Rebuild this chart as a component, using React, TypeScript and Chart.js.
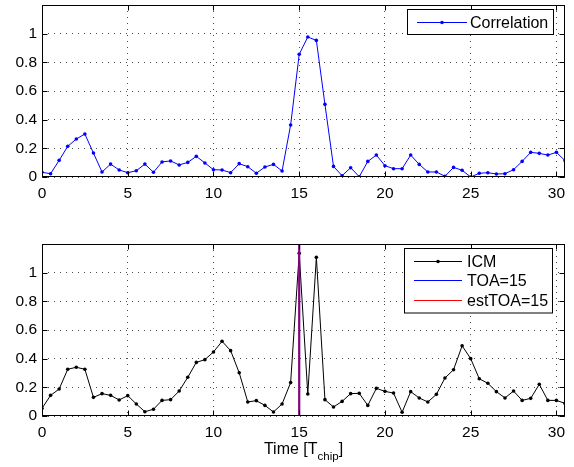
import React, { useEffect, useRef } from "react";
import { Chart, registerables } from "chart.js";

Chart.register(...registerables);

const times = [
  0, 0.5, 1, 1.5, 2, 2.5, 3, 3.5, 4, 4.5, 5, 5.5, 6, 6.5, 7, 7.5, 8, 8.5, 9, 9.5,
  10, 10.5, 11, 11.5, 12, 12.5, 13, 13.5, 14, 14.5, 15, 15.5, 16, 16.5, 17, 17.5,
  18, 18.5, 19, 19.5, 20, 20.5, 21, 21.5, 22, 22.5, 23, 23.5, 24, 24.5, 25, 25.5,
  26, 26.5, 27, 27.5, 28, 28.5, 29, 29.5, 30, 30.5,
];

const correlation = [
  0.033, 0.023, 0.116, 0.214, 0.265, 0.3, 0.167, 0.035, 0.09, 0.049, 0.03, 0.044,
  0.09, 0.033, 0.105, 0.112, 0.084, 0.102, 0.144, 0.098, 0.051, 0.049, 0.03, 0.093,
  0.072, 0.026, 0.07, 0.088, 0.042, 0.363, 0.856, 0.977, 0.953, 0.507, 0.074, 0.009,
  0.065, 0.002, 0.109, 0.153, 0.079, 0.058, 0.058, 0.153, 0.088, 0.035, 0.035, 0.005,
  0.067, 0.047, 0.0, 0.026, 0.03, 0.021, 0.023, 0.051, 0.109, 0.172, 0.165, 0.153,
  0.172, 0.114,
];

const icm = [
  0.053, 0.144, 0.188, 0.326, 0.34, 0.326, 0.13, 0.156, 0.144, 0.112, 0.142, 0.084,
  0.03, 0.047, 0.109, 0.114, 0.174, 0.27, 0.374, 0.393, 0.447, 0.521, 0.456, 0.302,
  0.098, 0.107, 0.074, 0.028, 0.084, 0.233, 1.135, 0.153, 1.107, 0.114, 0.063, 0.102,
  0.156, 0.158, 0.074, 0.193, 0.172, 0.16, 0.026, 0.17, 0.126, 0.098, 0.151, 0.265,
  0.323, 0.49, 0.4, 0.26, 0.228, 0.17, 0.126, 0.174, 0.109, 0.123, 0.221, 0.109,
  0.109, 0.088,
];

const toaTime = 15;
const estToaTime = 15;

const xTicks = [0, 5, 10, 15, 20, 25, 30];
const xTickLabels = ["0", "5", "10", "15", "20", "25", "30"];
const yTicks = [0, 0.2, 0.4, 0.6, 0.8, 1];
const yTickLabels = ["0", "0.2", "0.4", "0.6", "0.8", "1"];

const xMin = 0;
const xMax = 30.5;
const yMin = 0;
const yMax = 1.2;

const FONT = "'Liberation Sans', Arial, Helvetica, sans-serif";
const TICK_FONT_SIZE = 15.5;

type LegendItem = { label: string; color: string; marker: boolean };

function makeScales(xAxisHeight: number) {
  return {
    x: {
      type: "linear" as const,
      min: xMin,
      max: xMax,
      afterBuildTicks: (scale: any) => {
        scale.ticks = xTicks.map((v) => ({ value: v }));
      },
      afterFit: (scale: any) => {
        scale.height = xAxisHeight;
        scale.paddingLeft = 0;
        scale.paddingRight = 0;
      },
      ticks: {
        autoSkip: false,
        maxRotation: 0,
        padding: 7,
        color: "#000",
        font: { family: FONT, size: TICK_FONT_SIZE },
        callback: (v: any) => {
          const i = xTicks.indexOf(Number(v));
          return i >= 0 ? xTickLabels[i] : "";
        },
      },
      grid: {
        color: "rgba(0,0,0,0.7)",
        lineWidth: 1,
        drawTicks: false,
      },
      border: { display: false, dash: [1, 5] },
    },
    y: {
      type: "linear" as const,
      min: yMin,
      max: yMax,
      afterBuildTicks: (scale: any) => {
        scale.ticks = yTicks.map((v) => ({ value: v }));
      },
      afterFit: (scale: any) => {
        scale.width = 42;
        scale.paddingTop = 0;
        scale.paddingBottom = 0;
      },
      ticks: {
        autoSkip: false,
        padding: 5,
        color: "#000",
        font: { family: FONT, size: TICK_FONT_SIZE },
        callback: (v: any) => {
          const i = yTicks.findIndex((t) => Math.abs(t - Number(v)) < 1e-9);
          return i >= 0 ? yTickLabels[i] : "";
        },
      },
      grid: {
        color: "rgba(0,0,0,0.7)",
        lineWidth: 1,
        drawTicks: false,
      },
      border: { display: false, dash: [1, 5] },
    },
  };
}

function framePlugin(
  legend: LegendItem[],
  box: { left: number; top: number; right: number; rowH: number; lineX0: number; lineX1: number; textX: number },
  xLabel: boolean
) {
  return {
    id: "frame",
    afterDraw(chart: any) {
      const ctx = chart.ctx as CanvasRenderingContext2D;
      const a = chart.chartArea;
      const xs = chart.scales.x;
      const ys = chart.scales.y;
      ctx.save();
      ctx.strokeStyle = "#000";
      ctx.lineWidth = 1;
      ctx.setLineDash([]);
      const L = Math.round(a.left) + 0.5;
      const R = Math.round(a.right) - 0.5;
      const T = Math.round(a.top) + 0.5;
      const B = Math.round(a.bottom) - 0.5;
      ctx.strokeRect(L, T, R - L, B - T);
      const tl = 5;
      ctx.beginPath();
      for (const v of xTicks) {
        const px = Math.round(xs.getPixelForValue(v)) + 0.5;
        ctx.moveTo(px, B);
        ctx.lineTo(px, B - tl);
        ctx.moveTo(px, T);
        ctx.lineTo(px, T + tl);
      }
      for (const v of yTicks) {
        const py = Math.round(ys.getPixelForValue(v)) + 0.5;
        ctx.moveTo(L, py);
        ctx.lineTo(L + tl, py);
        ctx.moveTo(R, py);
        ctx.lineTo(R - tl, py);
      }
      ctx.stroke();

      const h = box.rowH * legend.length + 6;
      ctx.fillStyle = "#fff";
      ctx.fillRect(box.left, box.top, box.right - box.left, h);
      ctx.strokeStyle = "#000";
      ctx.strokeRect(box.left + 0.5, box.top + 0.5, box.right - box.left, h);
      ctx.font = `16px ${FONT}`;
      ctx.textBaseline = "middle";
      ctx.textAlign = "left";
      legend.forEach((it, i) => {
        const y = Math.round(box.top + 3 + box.rowH * (i + 0.5)) + 0.5;
        ctx.strokeStyle = it.color;
        ctx.lineWidth = 1;
        ctx.beginPath();
        ctx.moveTo(box.lineX0, y);
        ctx.lineTo(box.lineX1, y);
        ctx.stroke();
        if (it.marker) {
          ctx.fillStyle = it.color;
          ctx.beginPath();
          ctx.arc((box.lineX0 + box.lineX1) / 2, y, 1.8, 0, Math.PI * 2);
          ctx.fill();
        }
        ctx.fillStyle = "#000";
        ctx.fillText(it.label, box.textX, y + 1);
      });

      if (xLabel) {
        ctx.fillStyle = "#000";
        ctx.textBaseline = "alphabetic";
        const main1 = "Time [T";
        const sub = "chip";
        const main2 = "]";
        ctx.font = `16px ${FONT}`;
        const w1 = ctx.measureText(main1).width;
        const w3 = ctx.measureText(main2).width;
        ctx.font = `11.5px ${FONT}`;
        const w2 = ctx.measureText(sub).width;
        const total = w1 + w2 + w3;
        const cx = (a.left + a.right) / 2;
        let x = cx - total / 2;
        const base = a.bottom + 38;
        ctx.font = `16px ${FONT}`;
        ctx.fillText(main1, x, base);
        x += w1;
        ctx.font = `11.5px ${FONT}`;
        ctx.fillText(sub, x, base + 5.5);
        x += w2;
        ctx.font = `16px ${FONT}`;
        ctx.fillText(main2, x, base);
      }
      ctx.restore();
    },
  };
}

export default function App() {
  const topRef = useRef<HTMLCanvasElement>(null);
  const botRef = useRef<HTMLCanvasElement>(null);

  useEffect(() => {
    document.body.style.margin = "0";
    const corrData = times.map((t, i) => ({ x: t, y: correlation[i] }));
    const icmData = times.map((t, i) => ({ x: t, y: icm[i] }));

    const top = new Chart(topRef.current!, {
      type: "line",
      data: {
        datasets: [
          {
            label: "Correlation",
            data: corrData,
            borderColor: "#0000ff",
            backgroundColor: "#0000ff",
            borderWidth: 1,
            pointRadius: 1.8,
            pointBorderWidth: 0,
            pointHoverRadius: 0,
            tension: 0,
          },
        ],
      },
      options: {
        responsive: false,
        animation: false,
        devicePixelRatio: 1,
        layout: { padding: { top: 5, right: 9, left: 0, bottom: 0 } },
        plugins: { legend: { display: false }, tooltip: { enabled: false } },
        scales: makeScales(38) as any,
      },
      plugins: [
        framePlugin(
          [{ label: "Correlation", color: "#0000ff", marker: true }],
          { left: 407, top: 9, right: 553, rowH: 19, lineX0: 417, lineX1: 467, textX: 470 },
          false
        ),
      ],
    });

    const bot = new Chart(botRef.current!, {
      type: "line",
      data: {
        datasets: [
          {
            label: "ICM",
            data: icmData,
            borderColor: "#000",
            backgroundColor: "#000",
            borderWidth: 1,
            pointRadius: 1.8,
            pointBorderWidth: 0,
            pointHoverRadius: 0,
            tension: 0,
            order: 3,
          },
          {
            label: "TOA=15",
            data: [
              { x: toaTime, y: yMin },
              { x: toaTime, y: yMax },
            ],
            borderColor: "#0000ff",
            borderWidth: 2,
            pointRadius: 0,
            order: 2,
          },
          {
            label: "estTOA=15",
            data: [
              { x: estToaTime, y: yMin },
              { x: estToaTime, y: yMax },
            ],
            borderColor: "rgba(255,0,0,0.6)",
            borderWidth: 2,
            pointRadius: 0,
            order: 1,
          },
        ],
      },
      options: {
        responsive: false,
        animation: false,
        devicePixelRatio: 1,
        layout: { padding: { top: 29, right: 9, left: 0, bottom: 0 } },
        plugins: { legend: { display: false }, tooltip: { enabled: false } },
        scales: makeScales(51) as any,
      },
      plugins: [
        framePlugin(
          [
            { label: "ICM", color: "#000", marker: true },
            { label: "TOA=15", color: "#0000ff", marker: false },
            { label: "estTOA=15", color: "#ff0000", marker: false },
          ],
          { left: 404, top: 33, right: 552, rowH: 19.5, lineX0: 414, lineX1: 462, textX: 467 },
          true
        ),
      ],
    });

    return () => {
      top.destroy();
      bot.destroy();
    };
  }, []);

  return (
    <div style={{ position: "absolute", left: 0, top: 0, width: 574, height: 467, background: "#fff" }}>
      <canvas
        ref={topRef}
        width={574}
        height={215}
        style={{ position: "absolute", left: 0, top: 0, width: 574, height: 215 }}
      />
      <canvas
        ref={botRef}
        width={574}
        height={252}
        style={{ position: "absolute", left: 0, top: 215, width: 574, height: 252 }}
      />
    </div>
  );
}
